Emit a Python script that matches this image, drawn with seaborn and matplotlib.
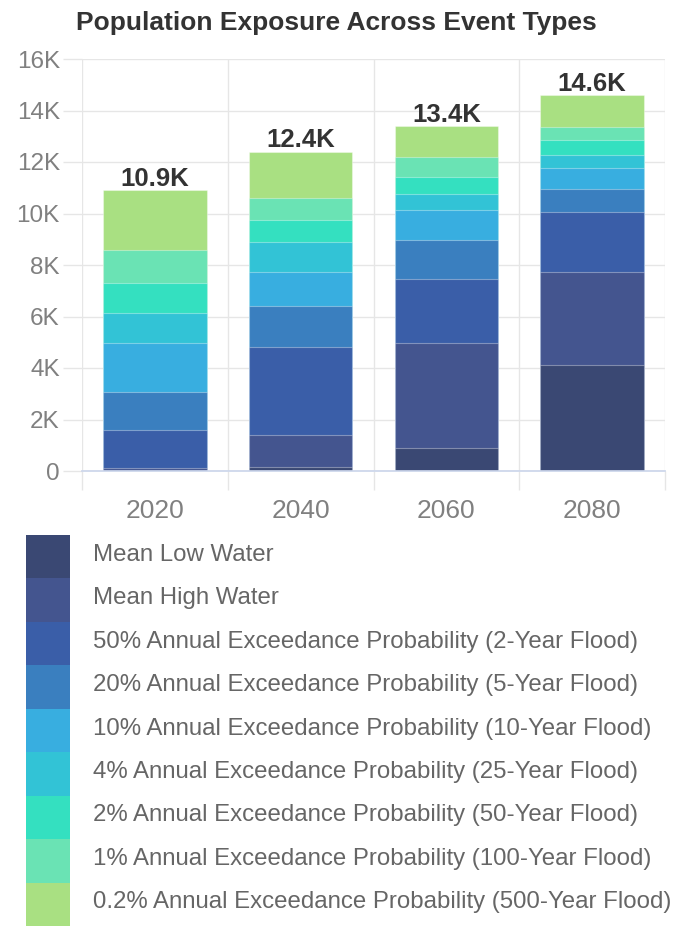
import numpy as np
import pandas as pd
import seaborn as sns
import matplotlib.pyplot as plt
from matplotlib.patches import Rectangle
from matplotlib.ticker import FuncFormatter

years = ["2020", "2040", "2060", "2080"]
event_types = [
    "Mean Low Water",
    "Mean High Water",
    "50% Annual Exceedance Probability (2-Year Flood)",
    "20% Annual Exceedance Probability (5-Year Flood)",
    "10% Annual Exceedance Probability (10-Year Flood)",
    "4% Annual Exceedance Probability (25-Year Flood)",
    "2% Annual Exceedance Probability (50-Year Flood)",
    "1% Annual Exceedance Probability (100-Year Flood)",
    "0.2% Annual Exceedance Probability (500-Year Flood)",
]
# exposed population per event type, bottom segment first
pop_2020 = [0, 100, 1490, 1490, 1880, 1160, 1170, 1290, 2320]
pop_2040 = [170, 1230, 3430, 1580, 1330, 1170, 840, 840, 1810]
pop_2060 = [880, 4080, 2480, 1530, 1150, 650, 660, 750, 1220]
pop_2080 = [4120, 3600, 2330, 920, 780, 520, 580, 510, 1240]

colors = ["#3a4873", "#44558f", "#3a5ea8", "#3a7fbf", "#38aee0",
          "#32c3d6", "#34e0c0", "#6ae3b4", "#a9e082"]

sns.set_theme(style="white")
plt.rcParams["font.family"] = ["Liberation Sans", "DejaVu Sans"]

df = pd.DataFrame({
    "year": np.repeat(years, len(event_types)),
    "event": event_types * len(years),
    "pop": pop_2020 + pop_2040 + pop_2060 + pop_2080,
})
df["cum"] = df.groupby("year")["pop"].cumsum()
totals = df.groupby("year")["pop"].sum()

W, H = 679, 926
fig = plt.figure(figsize=(W / 100, H / 100), dpi=100)
ax = fig.add_axes([82 / W, 1 - 471 / H, (665 - 82) / W, (471 - 59) / H])

# stacked look: draw cumulative bars from the top segment down
for ev, col in reversed(list(zip(event_types, colors))):
    sns.barplot(data=df[df["event"] == ev], x="year", y="cum", order=years,
                color=col, saturation=1, width=0.71, errorbar=None,
                edgecolor=(1, 1, 1, 0.35), linewidth=0.8, ax=ax)

for i, y in enumerate(years):
    t = totals[y]
    ax.annotate(f"{t / 1000:.1f}K", (i, t), xytext=(0, -0.5), textcoords="offset points",
                ha="center", va="bottom", fontsize=18.5, fontweight="bold", color="#333333")

ax.set_xlim(-0.5, 3.5)
ax.set_ylim(0, 16000)
ax.set_yticks(np.arange(0, 16001, 2000))
ax.yaxis.set_major_formatter(FuncFormatter(lambda v, p: "0" if v == 0 else f"{int(v / 1000)}K"))
ax.set_xticks([-0.5, 0.5, 1.5, 2.5, 3.5], minor=True)
ax.set_xlabel("")
ax.set_ylabel("")

ax.grid(axis="y", color="#e6e6e6", linewidth=1)
ax.grid(axis="x", which="minor", color="#e6e6e6", linewidth=1)
ax.set_axisbelow(True)
ax.tick_params(axis="y", length=14, width=1, color="#e6e6e6", pad=2,
               labelsize=17.5, labelcolor="#808080", left=True)
ax.tick_params(axis="x", which="major", length=0, pad=20, labelsize=19, labelcolor="#808080")
ax.tick_params(axis="x", which="minor", length=14, width=1, color="#e6e6e6", bottom=True)
for s in ["top", "right", "left"]:
    ax.spines[s].set_visible(False)
ax.spines["bottom"].set_color("#ccd6eb")

fig.text(0.495, 1 - 23 / H, "Population Exposure Across Event Types", ha="center", va="center",
         fontsize=19, fontweight="bold", color="#333333")

# legend drawn by hand: contiguous colour swatches
leg_top = 535
lax = fig.add_axes([0, 0, 1, (H - leg_top) / H])
lax.set_xlim(0, W)
lax.set_ylim(H, leg_top)
lax.axis("off")
step = (H - leg_top) / len(event_types)
for i, (ev, col) in enumerate(zip(event_types, colors)):
    top = leg_top + i * step
    lax.add_patch(Rectangle((26, top), 44, step, facecolor=col, edgecolor="none"))
    lax.text(93, top + step / 2 - 2, ev, ha="left", va="center", fontsize=17.3, color="#666666")

fig.savefig("out.png", dpi=100)
